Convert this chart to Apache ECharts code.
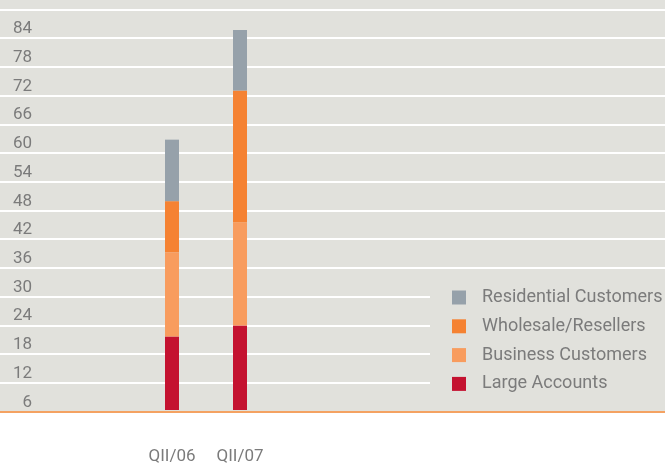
<!DOCTYPE html>
<html>
<head>
<meta charset="utf-8">
<script src="https://cdn.jsdelivr.net/npm/echarts@6/dist/echarts.min.js"></script>
<style>
html,body{margin:0;padding:0;background:#ffffff;}
#chart{width:665px;height:465px;background:linear-gradient(to bottom,#e1e1dc 0px,#e1e1dc 411px,#ffffff 411px);}
</style>
</head>
<body>
<div id="chart"></div>
<script>
var categories = ['QII/06', 'QII/07'];
var largeAccounts = [15.4, 17.7];
var businessCustomers = [17.7, 21.7];
var wholesaleResellers = [10.7, 27.6];
var residentialCustomers = [12.9, 12.7];
var yMin = 0, yMax = 84, yStep = 6;

var FONT = 'Roboto';
var TXT = '#7b7b7b';
var chart = echarts.init(document.getElementById('chart'), null, {renderer: 'canvas'});

function bar(name, data, color) {
  return {
    name: name, type: 'bar', stack: 'total', xAxisIndex: 1, yAxisIndex: 1,
    data: data, barWidth: 14, itemStyle: {color: color}, emphasis: {disabled: true}
  };
}

chart.setOption({
  animation: false,
  grid: [
    {left: 0, right: 0, top: 9.5, bottom: 53.5},
    {left: 138, right: 391, top: 9.5, bottom: 53.5},
    {left: 0, right: 0, top: 29, bottom: 34}
  ],
  xAxis: [
    {gridIndex: 0, type: 'value', min: 0, max: 1, axisLabel: {show: false}, axisTick: {show: false},
     splitLine: {show: false}, axisLine: {show: true, lineStyle: {color: '#f4a262', width: 2}}, z: 5},
    {gridIndex: 1, type: 'category', data: categories, axisTick: {show: false}, axisLine: {show: false},
     axisLabel: {color: TXT, fontFamily: FONT, fontSize: 17, margin: 38}},
    {gridIndex: 2, type: 'value', min: 0, max: 1, show: false}
  ],
  yAxis: [
    {gridIndex: 0, type: 'value', min: yMin, max: yMax, interval: yStep,
     axisLine: {show: false}, axisTick: {show: false}, axisLabel: {show: false},
     splitLine: {show: true, lineStyle: {color: '#ffffff', width: 2}}},
    {gridIndex: 1, type: 'value', min: yMin, max: yMax, interval: yStep, show: false, splitLine: {show: false}},
    {gridIndex: 2, type: 'value', min: yMin, max: yMax, interval: yStep,
     axisLine: {show: false}, axisTick: {show: false}, splitLine: {show: false},
     axisLabel: {inside: true, align: 'right', margin: 32, color: TXT, fontFamily: FONT, fontSize: 17,
       showMaxLabel: true,
       formatter: function (v) { return v === 0 ? '' : String(v); }}}
  ],
  legend: {
    orient: 'vertical', left: 430, top: 280.5,
    backgroundColor: '#e1e1dc', padding: [8, 3, 8, 22],
    itemWidth: 14, itemHeight: 14, itemGap: 10.8,
    icon: 'rect',
    data: ['Residential Customers', 'Wholesale/Resellers', 'Business Customers', 'Large Accounts'],
    textStyle: {color: TXT, fontFamily: FONT, fontSize: 18, lineHeight: 14, padding: [0, 0, 0, 11]},
    selectedMode: false
  },
  series: [
    bar('Large Accounts', largeAccounts, '#c41230'),
    bar('Business Customers', businessCustomers, '#f89c5e'),
    bar('Wholesale/Resellers', wholesaleResellers, '#f58232'),
    bar('Residential Customers', residentialCustomers, '#96a1aa')
  ]
});
</script>
</body>
</html>
